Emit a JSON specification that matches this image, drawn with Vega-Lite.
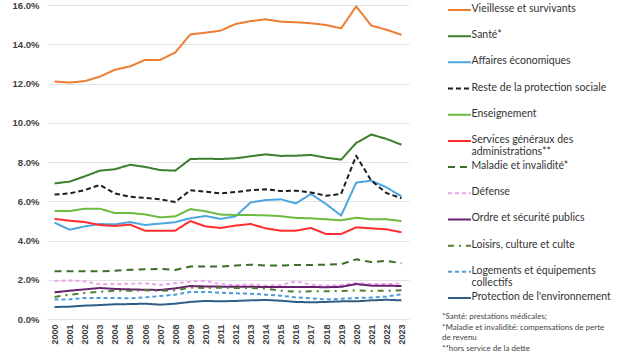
{
"$schema": "https://vega.github.io/schema/vega-lite/v6.json",
"padding": {"left": 12, "top": 0, "right": 5, "bottom": 0},
"background": "white",
"config": {"view": {"stroke": null}, "font": "Liberation Sans", "concat": {"spacing": 33}},
"datasets": {
"legend": [
{"series": "Vieillesse et survivants", "label": "Vieillesse et survivants"},
{"series": "Santé*", "label": "Santé*"},
{"series": "Affaires économiques", "label": "Affaires économiques"},
{"series": "Reste de la protection sociale", "label": "Reste de la protection sociale"},
{"series": "Enseignement", "label": "Enseignement"},
{"series": "Services généraux des administrations**", "label": "Services généraux des\nadministrations**"},
{"series": "Maladie et invalidité*", "label": "Maladie et invalidité*"},
{"series": "Défense", "label": "Défense"},
{"series": "Ordre et sécurité publics", "label": "Ordre et sécurité publics"},
{"series": "Loisirs, culture et culte", "label": "Loisirs, culture et culte"},
{"series": "Logements et équipements collectifs", "label": "Logements et équipements\ncollectifs"},
{"series": "Protection de l'environnement", "label": "Protection de l'environnement"}
],
"main": [
{"year":2000,"series":"Vieillesse et survivants","value":12.1},{"year":2001,"series":"Vieillesse et survivants","value":12.05},{"year":2002,"series":"Vieillesse et survivants","value":12.12},{"year":2003,"series":"Vieillesse et survivants","value":12.35},{"year":2004,"series":"Vieillesse et survivants","value":12.7},{"year":2005,"series":"Vieillesse et survivants","value":12.87},{"year":2006,"series":"Vieillesse et survivants","value":13.2},{"year":2007,"series":"Vieillesse et survivants","value":13.2},{"year":2008,"series":"Vieillesse et survivants","value":13.58},{"year":2009,"series":"Vieillesse et survivants","value":14.5},{"year":2010,"series":"Vieillesse et survivants","value":14.59},{"year":2011,"series":"Vieillesse et survivants","value":14.69},{"year":2012,"series":"Vieillesse et survivants","value":15.03},{"year":2013,"series":"Vieillesse et survivants","value":15.18},{"year":2014,"series":"Vieillesse et survivants","value":15.27},{"year":2015,"series":"Vieillesse et survivants","value":15.15},{"year":2016,"series":"Vieillesse et survivants","value":15.12},{"year":2017,"series":"Vieillesse et survivants","value":15.07},{"year":2018,"series":"Vieillesse et survivants","value":14.98},{"year":2019,"series":"Vieillesse et survivants","value":14.81},{"year":2020,"series":"Vieillesse et survivants","value":15.93},{"year":2021,"series":"Vieillesse et survivants","value":14.95},{"year":2022,"series":"Vieillesse et survivants","value":14.74},{"year":2023,"series":"Vieillesse et survivants","value":14.48},
{"year":2000,"series":"Santé*","value":6.91},{"year":2001,"series":"Santé*","value":7.0},{"year":2002,"series":"Santé*","value":7.27},{"year":2003,"series":"Santé*","value":7.56},{"year":2004,"series":"Santé*","value":7.63},{"year":2005,"series":"Santé*","value":7.86},{"year":2006,"series":"Santé*","value":7.75},{"year":2007,"series":"Santé*","value":7.59},{"year":2008,"series":"Santé*","value":7.56},{"year":2009,"series":"Santé*","value":8.15},{"year":2010,"series":"Santé*","value":8.17},{"year":2011,"series":"Santé*","value":8.15},{"year":2012,"series":"Santé*","value":8.19},{"year":2013,"series":"Santé*","value":8.29},{"year":2014,"series":"Santé*","value":8.39},{"year":2015,"series":"Santé*","value":8.31},{"year":2016,"series":"Santé*","value":8.32},{"year":2017,"series":"Santé*","value":8.36},{"year":2018,"series":"Santé*","value":8.22},{"year":2019,"series":"Santé*","value":8.12},{"year":2020,"series":"Santé*","value":8.97},{"year":2021,"series":"Santé*","value":9.4},{"year":2022,"series":"Santé*","value":9.18},{"year":2023,"series":"Santé*","value":8.88},
{"year":2000,"series":"Affaires économiques","value":4.91},{"year":2001,"series":"Affaires économiques","value":4.55},{"year":2002,"series":"Affaires économiques","value":4.72},{"year":2003,"series":"Affaires économiques","value":4.84},{"year":2004,"series":"Affaires économiques","value":4.82},{"year":2005,"series":"Affaires économiques","value":4.94},{"year":2006,"series":"Affaires économiques","value":4.79},{"year":2007,"series":"Affaires économiques","value":4.86},{"year":2008,"series":"Affaires économiques","value":4.93},{"year":2009,"series":"Affaires économiques","value":5.13},{"year":2010,"series":"Affaires économiques","value":5.25},{"year":2011,"series":"Affaires économiques","value":5.1},{"year":2012,"series":"Affaires économiques","value":5.23},{"year":2013,"series":"Affaires économiques","value":5.94},{"year":2014,"series":"Affaires économiques","value":6.06},{"year":2015,"series":"Affaires économiques","value":6.1},{"year":2016,"series":"Affaires économiques","value":5.89},{"year":2017,"series":"Affaires économiques","value":6.37},{"year":2018,"series":"Affaires économiques","value":5.86},{"year":2019,"series":"Affaires économiques","value":5.27},{"year":2020,"series":"Affaires économiques","value":6.95},{"year":2021,"series":"Affaires économiques","value":7.05},{"year":2022,"series":"Affaires économiques","value":6.71},{"year":2023,"series":"Affaires économiques","value":6.25},
{"year":2000,"series":"Reste de la protection sociale","value":6.34},{"year":2001,"series":"Reste de la protection sociale","value":6.4},{"year":2002,"series":"Reste de la protection sociale","value":6.57},{"year":2003,"series":"Reste de la protection sociale","value":6.83},{"year":2004,"series":"Reste de la protection sociale","value":6.4},{"year":2005,"series":"Reste de la protection sociale","value":6.23},{"year":2006,"series":"Reste de la protection sociale","value":6.17},{"year":2007,"series":"Reste de la protection sociale","value":6.1},{"year":2008,"series":"Reste de la protection sociale","value":5.96},{"year":2009,"series":"Reste de la protection sociale","value":6.56},{"year":2010,"series":"Reste de la protection sociale","value":6.49},{"year":2011,"series":"Reste de la protection sociale","value":6.4},{"year":2012,"series":"Reste de la protection sociale","value":6.47},{"year":2013,"series":"Reste de la protection sociale","value":6.56},{"year":2014,"series":"Reste de la protection sociale","value":6.61},{"year":2015,"series":"Reste de la protection sociale","value":6.52},{"year":2016,"series":"Reste de la protection sociale","value":6.54},{"year":2017,"series":"Reste de la protection sociale","value":6.45},{"year":2018,"series":"Reste de la protection sociale","value":6.28},{"year":2019,"series":"Reste de la protection sociale","value":6.37},{"year":2020,"series":"Reste de la protection sociale","value":8.32},{"year":2021,"series":"Reste de la protection sociale","value":7.05},{"year":2022,"series":"Reste de la protection sociale","value":6.42},{"year":2023,"series":"Reste de la protection sociale","value":6.15},
{"year":2000,"series":"Enseignement","value":5.5},{"year":2001,"series":"Enseignement","value":5.5},{"year":2002,"series":"Enseignement","value":5.62},{"year":2003,"series":"Enseignement","value":5.62},{"year":2004,"series":"Enseignement","value":5.4},{"year":2005,"series":"Enseignement","value":5.4},{"year":2006,"series":"Enseignement","value":5.33},{"year":2007,"series":"Enseignement","value":5.18},{"year":2008,"series":"Enseignement","value":5.23},{"year":2009,"series":"Enseignement","value":5.6},{"year":2010,"series":"Enseignement","value":5.49},{"year":2011,"series":"Enseignement","value":5.32},{"year":2012,"series":"Enseignement","value":5.3},{"year":2013,"series":"Enseignement","value":5.3},{"year":2014,"series":"Enseignement","value":5.28},{"year":2015,"series":"Enseignement","value":5.24},{"year":2016,"series":"Enseignement","value":5.15},{"year":2017,"series":"Enseignement","value":5.13},{"year":2018,"series":"Enseignement","value":5.08},{"year":2019,"series":"Enseignement","value":5.03},{"year":2020,"series":"Enseignement","value":5.16},{"year":2021,"series":"Enseignement","value":5.08},{"year":2022,"series":"Enseignement","value":5.08},{"year":2023,"series":"Enseignement","value":4.99},
{"year":2000,"series":"Services généraux des administrations**","value":5.1},{"year":2001,"series":"Services généraux des administrations**","value":5.01},{"year":2002,"series":"Services généraux des administrations**","value":4.94},{"year":2003,"series":"Services généraux des administrations**","value":4.79},{"year":2004,"series":"Services généraux des administrations**","value":4.74},{"year":2005,"series":"Services généraux des administrations**","value":4.81},{"year":2006,"series":"Services généraux des administrations**","value":4.5},{"year":2007,"series":"Services généraux des administrations**","value":4.5},{"year":2008,"series":"Services généraux des administrations**","value":4.5},{"year":2009,"series":"Services généraux des administrations**","value":4.99},{"year":2010,"series":"Services généraux des administrations**","value":4.72},{"year":2011,"series":"Services généraux des administrations**","value":4.64},{"year":2012,"series":"Services généraux des administrations**","value":4.76},{"year":2013,"series":"Services généraux des administrations**","value":4.84},{"year":2014,"series":"Services généraux des administrations**","value":4.62},{"year":2015,"series":"Services généraux des administrations**","value":4.5},{"year":2016,"series":"Services généraux des administrations**","value":4.5},{"year":2017,"series":"Services généraux des administrations**","value":4.64},{"year":2018,"series":"Services généraux des administrations**","value":4.33},{"year":2019,"series":"Services généraux des administrations**","value":4.33},{"year":2020,"series":"Services généraux des administrations**","value":4.67},{"year":2021,"series":"Services généraux des administrations**","value":4.62},{"year":2022,"series":"Services généraux des administrations**","value":4.57},{"year":2023,"series":"Services généraux des administrations**","value":4.42},
{"year":2000,"series":"Maladie et invalidité*","value":2.43},{"year":2001,"series":"Maladie et invalidité*","value":2.43},{"year":2002,"series":"Maladie et invalidité*","value":2.43},{"year":2003,"series":"Maladie et invalidité*","value":2.43},{"year":2004,"series":"Maladie et invalidité*","value":2.46},{"year":2005,"series":"Maladie et invalidité*","value":2.51},{"year":2006,"series":"Maladie et invalidité*","value":2.53},{"year":2007,"series":"Maladie et invalidité*","value":2.55},{"year":2008,"series":"Maladie et invalidité*","value":2.5},{"year":2009,"series":"Maladie et invalidité*","value":2.67},{"year":2010,"series":"Maladie et invalidité*","value":2.67},{"year":2011,"series":"Maladie et invalidité*","value":2.67},{"year":2012,"series":"Maladie et invalidité*","value":2.72},{"year":2013,"series":"Maladie et invalidité*","value":2.77},{"year":2014,"series":"Maladie et invalidité*","value":2.72},{"year":2015,"series":"Maladie et invalidité*","value":2.72},{"year":2016,"series":"Maladie et invalidité*","value":2.75},{"year":2017,"series":"Maladie et invalidité*","value":2.75},{"year":2018,"series":"Maladie et invalidité*","value":2.77},{"year":2019,"series":"Maladie et invalidité*","value":2.79},{"year":2020,"series":"Maladie et invalidité*","value":3.04},{"year":2021,"series":"Maladie et invalidité*","value":2.9},{"year":2022,"series":"Maladie et invalidité*","value":2.96},{"year":2023,"series":"Maladie et invalidité*","value":2.84},
{"year":2000,"series":"Défense","value":1.94},{"year":2001,"series":"Défense","value":1.97},{"year":2002,"series":"Défense","value":1.92},{"year":2003,"series":"Défense","value":1.77},{"year":2004,"series":"Défense","value":1.78},{"year":2005,"series":"Défense","value":1.8},{"year":2006,"series":"Défense","value":1.82},{"year":2007,"series":"Défense","value":1.73},{"year":2008,"series":"Défense","value":1.82},{"year":2009,"series":"Défense","value":1.9},{"year":2010,"series":"Défense","value":1.95},{"year":2011,"series":"Défense","value":1.77},{"year":2012,"series":"Défense","value":1.73},{"year":2013,"series":"Défense","value":1.75},{"year":2014,"series":"Défense","value":1.7},{"year":2015,"series":"Défense","value":1.73},{"year":2016,"series":"Défense","value":1.92},{"year":2017,"series":"Défense","value":1.75},{"year":2018,"series":"Défense","value":1.7},{"year":2019,"series":"Défense","value":1.73},{"year":2020,"series":"Défense","value":1.83},{"year":2021,"series":"Défense","value":1.78},{"year":2022,"series":"Défense","value":1.78},{"year":2023,"series":"Défense","value":1.82},
{"year":2000,"series":"Ordre et sécurité publics","value":1.36},{"year":2001,"series":"Ordre et sécurité publics","value":1.44},{"year":2002,"series":"Ordre et sécurité publics","value":1.51},{"year":2003,"series":"Ordre et sécurité publics","value":1.58},{"year":2004,"series":"Ordre et sécurité publics","value":1.53},{"year":2005,"series":"Ordre et sécurité publics","value":1.51},{"year":2006,"series":"Ordre et sécurité publics","value":1.49},{"year":2007,"series":"Ordre et sécurité publics","value":1.48},{"year":2008,"series":"Ordre et sécurité publics","value":1.56},{"year":2009,"series":"Ordre et sécurité publics","value":1.68},{"year":2010,"series":"Ordre et sécurité publics","value":1.66},{"year":2011,"series":"Ordre et sécurité publics","value":1.65},{"year":2012,"series":"Ordre et sécurité publics","value":1.64},{"year":2013,"series":"Ordre et sécurité publics","value":1.64},{"year":2014,"series":"Ordre et sécurité publics","value":1.63},{"year":2015,"series":"Ordre et sécurité publics","value":1.63},{"year":2016,"series":"Ordre et sécurité publics","value":1.63},{"year":2017,"series":"Ordre et sécurité publics","value":1.63},{"year":2018,"series":"Ordre et sécurité publics","value":1.62},{"year":2019,"series":"Ordre et sécurité publics","value":1.64},{"year":2020,"series":"Ordre et sécurité publics","value":1.78},{"year":2021,"series":"Ordre et sécurité publics","value":1.7},{"year":2022,"series":"Ordre et sécurité publics","value":1.7},{"year":2023,"series":"Ordre et sécurité publics","value":1.68},
{"year":2000,"series":"Loisirs, culture et culte","value":1.12},{"year":2001,"series":"Loisirs, culture et culte","value":1.24},{"year":2002,"series":"Loisirs, culture et culte","value":1.32},{"year":2003,"series":"Loisirs, culture et culte","value":1.39},{"year":2004,"series":"Loisirs, culture et culte","value":1.44},{"year":2005,"series":"Loisirs, culture et culte","value":1.44},{"year":2006,"series":"Loisirs, culture et culte","value":1.46},{"year":2007,"series":"Loisirs, culture et culte","value":1.44},{"year":2008,"series":"Loisirs, culture et culte","value":1.46},{"year":2009,"series":"Loisirs, culture et culte","value":1.6},{"year":2010,"series":"Loisirs, culture et culte","value":1.58},{"year":2011,"series":"Loisirs, culture et culte","value":1.6},{"year":2012,"series":"Loisirs, culture et culte","value":1.58},{"year":2013,"series":"Loisirs, culture et culte","value":1.58},{"year":2014,"series":"Loisirs, culture et culte","value":1.55},{"year":2015,"series":"Loisirs, culture et culte","value":1.44},{"year":2016,"series":"Loisirs, culture et culte","value":1.39},{"year":2017,"series":"Loisirs, culture et culte","value":1.41},{"year":2018,"series":"Loisirs, culture et culte","value":1.41},{"year":2019,"series":"Loisirs, culture et culte","value":1.43},{"year":2020,"series":"Loisirs, culture et culte","value":1.46},{"year":2021,"series":"Loisirs, culture et culte","value":1.43},{"year":2022,"series":"Loisirs, culture et culte","value":1.44},{"year":2023,"series":"Loisirs, culture et culte","value":1.46},
{"year":2000,"series":"Logements et équipements collectifs","value":0.99},{"year":2001,"series":"Logements et équipements collectifs","value":1.0},{"year":2002,"series":"Logements et équipements collectifs","value":1.07},{"year":2003,"series":"Logements et équipements collectifs","value":1.07},{"year":2004,"series":"Logements et équipements collectifs","value":1.07},{"year":2005,"series":"Logements et équipements collectifs","value":1.05},{"year":2006,"series":"Logements et équipements collectifs","value":1.1},{"year":2007,"series":"Logements et équipements collectifs","value":1.17},{"year":2008,"series":"Logements et équipements collectifs","value":1.24},{"year":2009,"series":"Logements et équipements collectifs","value":1.38},{"year":2010,"series":"Logements et équipements collectifs","value":1.38},{"year":2011,"series":"Logements et équipements collectifs","value":1.34},{"year":2012,"series":"Logements et équipements collectifs","value":1.31},{"year":2013,"series":"Logements et équipements collectifs","value":1.29},{"year":2014,"series":"Logements et équipements collectifs","value":1.24},{"year":2015,"series":"Logements et équipements collectifs","value":1.19},{"year":2016,"series":"Logements et équipements collectifs","value":1.1},{"year":2017,"series":"Logements et équipements collectifs","value":1.05},{"year":2018,"series":"Logements et équipements collectifs","value":1.0},{"year":2019,"series":"Logements et équipements collectifs","value":1.03},{"year":2020,"series":"Logements et équipements collectifs","value":1.07},{"year":2021,"series":"Logements et équipements collectifs","value":1.09},{"year":2022,"series":"Logements et équipements collectifs","value":1.14},{"year":2023,"series":"Logements et équipements collectifs","value":1.26},
{"year":2000,"series":"Protection de l'environnement","value":0.61},{"year":2001,"series":"Protection de l'environnement","value":0.63},{"year":2002,"series":"Protection de l'environnement","value":0.68},{"year":2003,"series":"Protection de l'environnement","value":0.71},{"year":2004,"series":"Protection de l'environnement","value":0.75},{"year":2005,"series":"Protection de l'environnement","value":0.76},{"year":2006,"series":"Protection de l'environnement","value":0.78},{"year":2007,"series":"Protection de l'environnement","value":0.73},{"year":2008,"series":"Protection de l'environnement","value":0.78},{"year":2009,"series":"Protection de l'environnement","value":0.87},{"year":2010,"series":"Protection de l'environnement","value":0.92},{"year":2011,"series":"Protection de l'environnement","value":0.9},{"year":2012,"series":"Protection de l'environnement","value":0.92},{"year":2013,"series":"Protection de l'environnement","value":0.95},{"year":2014,"series":"Protection de l'environnement","value":0.97},{"year":2015,"series":"Protection de l'environnement","value":0.93},{"year":2016,"series":"Protection de l'environnement","value":0.87},{"year":2017,"series":"Protection de l'environnement","value":0.85},{"year":2018,"series":"Protection de l'environnement","value":0.87},{"year":2019,"series":"Protection de l'environnement","value":0.9},{"year":2020,"series":"Protection de l'environnement","value":0.9},{"year":2021,"series":"Protection de l'environnement","value":0.95},{"year":2022,"series":"Protection de l'environnement","value":0.98},{"year":2023,"series":"Protection de l'environnement","value":0.95}
]
},
"hconcat": [
{
"width": 362, "height": 314,
"data": {"name": "main"},
"mark": {"type": "line", "strokeWidth": 2, "strokeJoin": "round"},
"encoding": {
"x": {"field": "year", "type": "ordinal", "scale": {"type": "point", "padding": 0.5}, "axis": {"title": null, "labelAngle": -90, "labelFontWeight": "bold", "labelFontSize": 9, "labelColor": "#404040", "domain": false, "ticks": false, "labelPadding": 5}},
"y": {"field": "value", "type": "quantitative", "scale": {"domain": [0, 16]}, "axis": {"title": null, "values": [0,2,4,6,8,10,12,14,16], "labelExpr": "format(datum.value, '.1f') + '%'", "domain": false, "ticks": false, "gridColor": "#e2e2e2", "labelFontWeight": "bold", "labelFontSize": 9.5, "labelColor": "#404040", "labelPadding": 8}},
"color": {"field": "series", "type": "nominal", "legend": null, "scale": {
"domain": ["Vieillesse et survivants","Santé*","Affaires économiques","Reste de la protection sociale","Enseignement","Services généraux des administrations**","Maladie et invalidité*","Défense","Ordre et sécurité publics","Loisirs, culture et culte","Logements et équipements collectifs","Protection de l'environnement"],
"range": ["#ED7D31","#3B7D2C","#4DA6E0","#1E1E1E","#6CBA3F","#FF2D2D","#3B6E2A","#EAA6EA","#6A2070","#4F7F30","#4B9CD8","#2F5D85"]}},
"strokeDash": {"field": "series", "type": "nominal", "legend": null, "scale": {
"domain": ["Vieillesse et survivants","Santé*","Affaires économiques","Reste de la protection sociale","Enseignement","Services généraux des administrations**","Maladie et invalidité*","Défense","Ordre et sécurité publics","Loisirs, culture et culte","Logements et équipements collectifs","Protection de l'environnement"],
"range": [[1,0],[1,0],[1,0],[5,3],[1,0],[1,0],[7,5],[4,3],[1,0],[6,5,2,5],[4,3],[1,0]]}}
}
},
{
"width": 181, "height": 298,
"data": {"name": "legend"},
"title": {"text": ["*Santé: prestations médicales;", "*Maladie et invalidité: compensations de perte", "de revenu", "**hors service de la dette"], "orient": "bottom", "anchor": "start", "frame": "group", "fontSize": 8, "fontWeight": "normal", "font": "Lato", "color": "#444444", "lineHeight": 10.5, "offset": 10},
"layer": [
{"mark": {"type": "rule", "strokeWidth": 2},
"encoding": {
"x": {"datum": 0.033, "type": "quantitative", "scale": {"domain": [0, 1]}, "axis": null},
"x2": {"datum": 0.16},
"y": {"field": "series", "type": "nominal", "sort": null, "scale": {"type": "point", "padding": 0.19}, "axis": null},
"color": {"field": "series", "type": "nominal", "legend": null},
"strokeDash": {"field": "series", "type": "nominal", "legend": null}
}},
{"mark": {"type": "text", "align": "left", "baseline": "top", "dy": -6, "lineBreak": "\n", "fontSize": 10.5, "font": "Lato", "color": "#333333"},
"encoding": {
"x": {"datum": 0.163, "type": "quantitative"},
"y": {"field": "series", "type": "nominal", "sort": null},
"text": {"field": "label"}
}}
]
}
]
}
